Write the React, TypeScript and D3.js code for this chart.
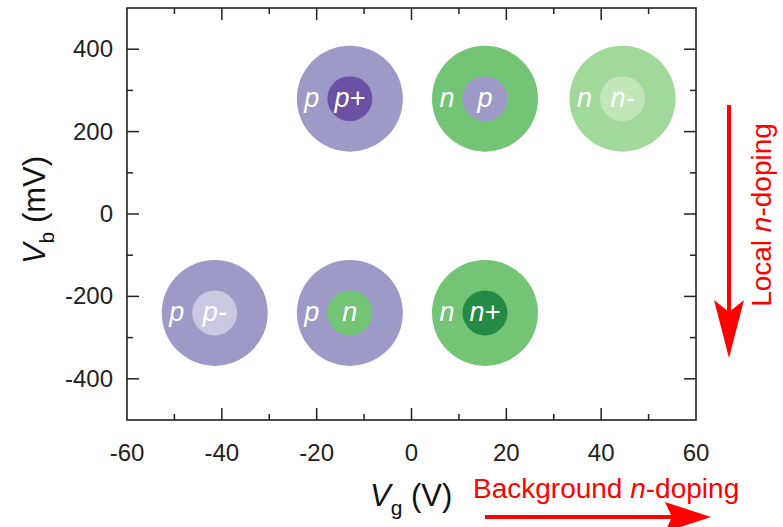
import React from "react";
import * as d3 from "d3";

// doping regions: gate voltage, bias voltage, outer/inner carrier type
const gateV = [-13, 15.5, 44.5, -41.5, -13, 15.5];
const biasV = [280, 280, 280, -240, -240, -240];
const outerLabels = ["p", "n", "n", "p", "p", "n"];
const innerLabels = ["p+", "p", "n-", "p-", "n", "n+"];
const outerColors = ["#9e9ac8", "#74c476", "#a1d99b", "#9e9ac8", "#9e9ac8", "#74c476"];
const innerColors = ["#6a51a3", "#9e9ac8", "#c2e6ba", "#cbc9e2", "#74c476", "#238b45"];

const xTicks = [-60, -40, -20, 0, 20, 40, 60];
const yTicks = [-400, -200, 0, 200, 400];

const W = 783;
const H = 527;
const font = "'Liberation Sans', Arial, Helvetica, sans-serif";

export default function App() {
  const left = 127;
  const right = 696;
  const top = 8;
  const bottom = 420;

  const x = d3.scaleLinear().domain([-60, 60]).range([left, right]);
  const y = d3.scaleLinear().domain([-500, 500]).range([bottom, top]);

  const xMinor = d3.range(-50, 60, 10).filter((v) => v % 20 !== 0);
  const yMinor = d3.range(-400, 500, 100).filter((v) => v % 200 !== 0);
  const major = 12;
  const minor = 6;

  const outerR = 53;
  const innerR = 22.5;

  const rows = gateV.map((g, i) => ({
    g,
    b: biasV[i],
    outer: outerLabels[i],
    inner: innerLabels[i],
    oc: outerColors[i],
    ic: innerColors[i],
  }));

  const red = "#ff0000";

  return (
    <svg
      width={W}
      height={H}
      style={{ position: "absolute", left: 0, top: 0, background: "#fff" }}
      fontFamily={font}
    >
      {/* circles */}
      {rows.map((d, i) => (
        <g key={i} transform={`translate(${x(d.g)},${y(d.b)})`}>
          <circle r={outerR} fill={d.oc} />
          <circle r={innerR} fill={d.ic} />
          <text x={-38} y={8} textAnchor="middle" fontSize={27} fontStyle="italic" fill="#fff">
            {d.outer}
          </text>
          <text x={0} y={8} textAnchor="middle" fontSize={27} fontStyle="italic" fill="#fff">
            {d.inner}
          </text>
        </g>
      ))}

      {/* frame */}
      <rect
        x={left}
        y={top}
        width={right - left}
        height={bottom - top}
        fill="none"
        stroke="#222"
        strokeWidth={1.6}
      />

      {/* x ticks (bottom and top, inward) */}
      {xTicks.slice(1, -1).map((v) => (
        <g key={"xt" + v}>
          <line x1={x(v)} x2={x(v)} y1={bottom} y2={bottom - major} stroke="#222" strokeWidth={1.5} />
          <line x1={x(v)} x2={x(v)} y1={top} y2={top + major} stroke="#222" strokeWidth={1.5} />
        </g>
      ))}
      {xMinor.map((v) => (
        <g key={"xm" + v}>
          <line x1={x(v)} x2={x(v)} y1={bottom} y2={bottom - minor} stroke="#222" strokeWidth={1.5} />
          <line x1={x(v)} x2={x(v)} y1={top} y2={top + minor} stroke="#222" strokeWidth={1.5} />
        </g>
      ))}
      {xTicks.map((v) => (
        <text key={"xl" + v} x={x(v)} y={461} textAnchor="middle" fontSize={24} fill="#222">
          {v}
        </text>
      ))}

      {/* y ticks (left and right, inward) */}
      {yTicks.map((v) => (
        <g key={"yt" + v}>
          <line x1={left} x2={left + major} y1={y(v)} y2={y(v)} stroke="#222" strokeWidth={1.5} />
          <line x1={right} x2={right - major} y1={y(v)} y2={y(v)} stroke="#222" strokeWidth={1.5} />
        </g>
      ))}
      {yMinor.map((v) => (
        <g key={"ym" + v}>
          <line x1={left} x2={left + minor} y1={y(v)} y2={y(v)} stroke="#222" strokeWidth={1.5} />
          <line x1={right} x2={right - minor} y1={y(v)} y2={y(v)} stroke="#222" strokeWidth={1.5} />
        </g>
      ))}
      {yTicks.map((v) => (
        <text key={"yl" + v} x={113} y={y(v) + 8} textAnchor="end" fontSize={24} fill="#222">
          {v}
        </text>
      ))}

      {/* axis titles */}
      <text x={370} y={506} fontSize={31} fill="#111">
        <tspan fontStyle="italic">V</tspan>
        <tspan fontSize={21} dy={9}>g</tspan>
        <tspan dy={-9}> (V)</tspan>
      </text>
      <text transform={`translate(45,${(top + bottom) / 2 - 4}) rotate(-90)`} textAnchor="middle" fontSize={31} fill="#111">
        <tspan fontStyle="italic">V</tspan>
        <tspan fontSize={21} dy={9}>b</tspan>
        <tspan dy={-9}> (mV)</tspan>
      </text>

      {/* background doping arrow */}
      <text x={473} y={498} fontSize={28} fill={red}>
        Background <tspan fontStyle="italic">n</tspan>-doping
      </text>
      <line x1={485} x2={680} y1={517} y2={517} stroke={red} strokeWidth={4} />
      <path d="M711,517 L665,502 L672,517 L665,532 Z" fill={red} />

      {/* local doping arrow */}
      <text transform="translate(771,215) rotate(-90)" textAnchor="middle" fontSize={28} fill={red}>
        Local <tspan fontStyle="italic">n</tspan>-doping
      </text>
      <line x1={729} x2={729} y1={105} y2={320} stroke={red} strokeWidth={4} />
      <path d="M729,358 L714,300 L729,312 L744,300 Z" fill={red} />
    </svg>
  );
}
